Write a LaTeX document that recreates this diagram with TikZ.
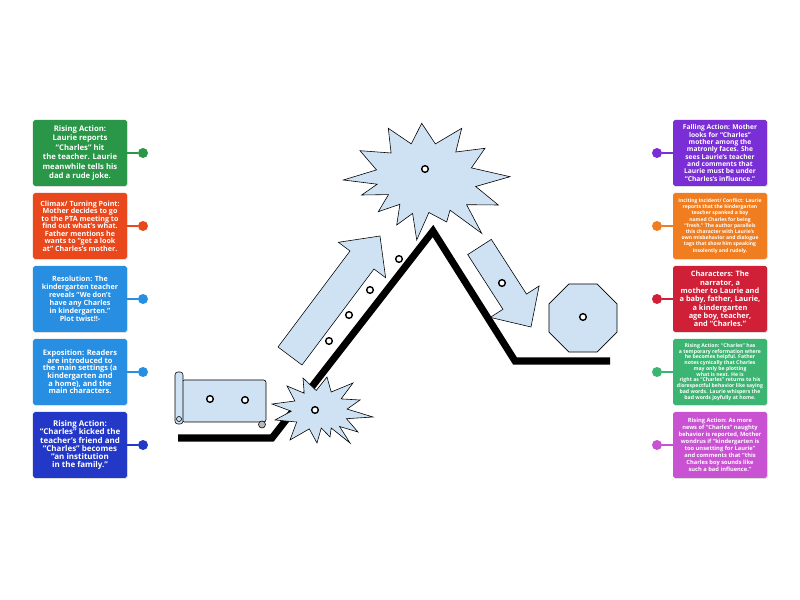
\documentclass[tikz,border=0pt]{standalone}
\usepackage{fontspec}
\setmainfont{Open Sans}
\usetikzlibrary{positioning, shadows, shapes.geometric}

\definecolor{paleblue}{RGB}{207,226,243}
\definecolor{cgreen}{RGB}{42,150,72}
\definecolor{cred}{RGB}{232,72,28}
\definecolor{cblue}{RGB}{40,142,226}
\definecolor{cnavy}{RGB}{36,56,200}
\definecolor{cpurple}{RGB}{122,46,214}
\definecolor{corange}{RGB}{240,126,32}
\definecolor{ccrimson}{RGB}{208,32,56}
\definecolor{cmint}{RGB}{60,180,114}
\definecolor{cmagenta}{RGB}{200,82,210}

\begin{document}
\begin{tikzpicture}[x=0.03cm, y=-0.03cm,
    card/.style={rounded corners=1.5pt, minimum width=2.82cm, minimum height=1.98cm,
      align=center, text=white, inner sep=1pt,
      drop shadow={opacity=0.25, shadow xshift=0.6pt, shadow yshift=-0.8pt}},
    pin/.style={line width=1.6pt},
    knob/.style={circle, inner sep=0pt, minimum size=0.3cm},
    plotshape/.style={draw=black, line width=0.5pt, fill=paleblue},
    spot/.style={circle, draw=black, line width=1.2pt, fill=white, minimum size=0.2cm, inner sep=0pt}]
  \useasboundingbox (0,0) rectangle (800,600);

  % climax star
  \draw[plotshape] (421.7,123.3) -- (435.4,143.9) -- (461.7,128.3) -- (455.8,152) -- (485,148.3)
    -- (471.4,167.9) -- (510,176.7) -- (475.7,186.5) -- (498.3,205) -- (466.6,204.7) -- (481.7,233.3)
    -- (450,210.2) -- (446.7,222) -- (428.9,212.5) -- (416.7,240) -- (412.6,213.4) -- (396.7,225)
    -- (399.9,204.3) -- (378.3,211.7) -- (388.5,194.6) -- (361.7,195) -- (377.2,184.2) -- (343.3,180)
    -- (376.5,169.9) -- (360,150.7) -- (391.1,153) -- (388.3,128.3) -- (411.3,143.9) -- cycle;

  % plot line
  \draw[line width=6pt, line join=miter] (178,438) -- (272,438) -- (433,231) -- (515,361) -- (610,361);

  % inciting star
  \draw[plotshape] (303,378) -- (316.2,390.5) -- (327,377) -- (331.2,392) -- (353,383) -- (341.1,398.9)
    -- (360,400) -- (347.1,409.1) -- (373,417) -- (346.5,418.7) -- (358,432) -- (339.6,426.5) -- (350,443)
    -- (331.2,428) -- (330,437) -- (321.3,428) -- (317,443) -- (309.3,428.9) -- (290,440) -- (296.7,422)
    -- (275,420) -- (291.3,411.2) -- (272,404) -- (294.9,401) -- (287,386) -- (304.2,393.2) -- cycle;

  % rising and falling arrows
  \draw[plotshape] (278,347) -- (350,251) -- (338.4,242.3) -- (380,236) -- (385.6,277.7) -- (374,269) -- (302,365) -- cycle;
  \draw[plotshape] (467.7,254.6) -- (502.9,309.3) -- (490.3,317.4) -- (531,327) -- (539.1,286) -- (526.5,294.1) -- (491.3,239.4) -- cycle;

  % scroll
  \draw[plotshape, rounded corners=2pt] (182,380) rectangle (266,422);
  \draw[plotshape, rounded corners=2.5pt] (175,372) rectangle (183,424);
  \draw[line width=0.5pt] (179,419) circle[radius=2.5];
  \draw[plotshape, fill=gray!55] (262,424.5) circle[radius=3.5];

  % ending
  \node[plotshape, regular polygon, regular polygon sides=8, minimum size=2.21cm, inner sep=0pt] (ending) at (583,318) {};

  % dots
  \node[spot] (d1) at (210,399) {};
  \node[spot] (d2) at (245,400) {};
  \node[spot] (d3) at (315,410) {};
  \node[spot] (d4) at (329,341) {};
  \node[spot] (d5) at (349,315) {};
  \node[spot] (d6) at (370,290) {};
  \node[spot] (d7) at (399,259) {};
  \node[spot] (d8) at (425,169) {};
  \node[spot] (d9) at (502,283) {};
  \node[spot] (d10) at (583,317) {};

  % left cards
  \node[card, fill=cgreen, font=\fontsize{6.6}{8}\selectfont\bfseries] (rise1) at (80,153)
    {Rising Action:\\ Laurie reports\\ “Charles” hit\\ the teacher. Laurie\\ meanwhile tells his\\ dad a rude joke.};
  \node[card, fill=cred, font=\fontsize{6.1}{6.4}\selectfont\bfseries] (climax) at (80,226)
    {Climax/ Turning Point:\\ Mother decides to go\\ to the PTA meeting to\\ find out what's what.\\ Father mentions he\\ wants to “get a look\\ at” Charles's mother.};
  \node[card, fill=cblue, font=\fontsize{6.1}{6.8}\selectfont\bfseries] (resol) at (80,299)
    {Resolution: The\\ kindergarten teacher\\ reveals “We don't\\ have any Charles\\ in kindergarten.”\\ Plot twist!!-};
  \node[card, fill=cblue, font=\fontsize{6.4}{6.5}\selectfont\bfseries] (expo) at (80,372)
    {Exposition: Readers\\ are introduced to\\ the main settings (a\\ kindergarten and\\ a home), and the\\ main characters.};
  \node[card, fill=cnavy, font=\fontsize{6.8}{6.9}\selectfont\bfseries] (rise2) at (80,445)
    {Rising Action:\\ “Charles” kicked the\\ teacher's friend and\\ “Charles” becomes\\ “an institution\\ in the family.”};

  % right cards
  \node[card, fill=cpurple, font=\fontsize{5.7}{6.3}\selectfont\bfseries] (fall) at (720,153)
    {Falling Action: Mother\\ looks for “Charles”\\ mother among the\\ matronly faces. She\\ sees Laurie's teacher\\ and comments that\\ Laurie must be under\\ “Charles's influence.”};
  \node[card, fill=corange, font=\fontsize{4.3}{5.3}\selectfont\bfseries] (incite) at (720,226)
    {Inciting Incident/ Conflict: Laurie\\ reports that the kindergarten\\ teacher spanked a boy\\ named Charles for being\\ “fresh.” The author parallels\\ this character with Laurie's\\ own misbehavior and dialogue\\ tags that show him speaking\\ insolently and rudely.};
  \node[card, fill=ccrimson, font=\fontsize{6.3}{7.1}\selectfont\bfseries] (chars) at (720,299)
    {Characters: The\\ narrator, a\\ mother to Laurie and\\ a baby, father, Laurie,\\ a kindergarten\\ age boy, teacher,\\ and “Charles.”};
  \node[card, fill=cmint, font=\fontsize{4.4}{4.9}\selectfont\bfseries] (rise3) at (720,372)
    {Rising Action: “Charles” has\\ a temporary reformation where\\ he becomes helpful. Father\\ notes cynically that Charles\\ may only be plotting\\ what is next. He is\\ right as “Charles” returns to his\\ disrespectful behavior like saying\\ bad words. Laurie whispers the\\ bad words joyfully at home.};
  \node[card, fill=cmagenta, font=\fontsize{4.9}{5.9}\selectfont\bfseries] (rise4) at (720,445)
    {Rising Action: As more\\ news of “Charles” naughty\\ behavior is reported, Mother\\ wondrus if “kindergarten is\\ too unsetting for Laurie”\\ and comments that “this\\ Charles boy sounds like\\ such a bad influence.”};

  % knobs
  \node[knob, fill=cgreen] (k1) at (143,153) {};
  \node[knob, fill=cred] (k2) at (143,226) {};
  \node[knob, fill=cblue] (k3) at (143,299) {};
  \node[knob, fill=cblue] (k4) at (143,372) {};
  \node[knob, fill=cnavy] (k5) at (143,445) {};
  \node[knob, fill=cpurple] (k6) at (657,153) {};
  \node[knob, fill=corange] (k7) at (657,226) {};
  \node[knob, fill=ccrimson] (k8) at (657,299) {};
  \node[knob, fill=cmint] (k9) at (657,372) {};
  \node[knob, fill=cmagenta] (k10) at (657,445) {};

  \draw[pin, cgreen] (rise1) -- (k1);
  \draw[pin, cred] (climax) -- (k2);
  \draw[pin, cblue] (resol) -- (k3);
  \draw[pin, cblue] (expo) -- (k4);
  \draw[pin, cnavy] (rise2) -- (k5);
  \draw[pin, cpurple] (fall) -- (k6);
  \draw[pin, corange] (incite) -- (k7);
  \draw[pin, ccrimson] (chars) -- (k8);
  \draw[pin, cmint] (rise3) -- (k9);
  \draw[pin, cmagenta] (rise4) -- (k10);
\end{tikzpicture}
\end{document}
